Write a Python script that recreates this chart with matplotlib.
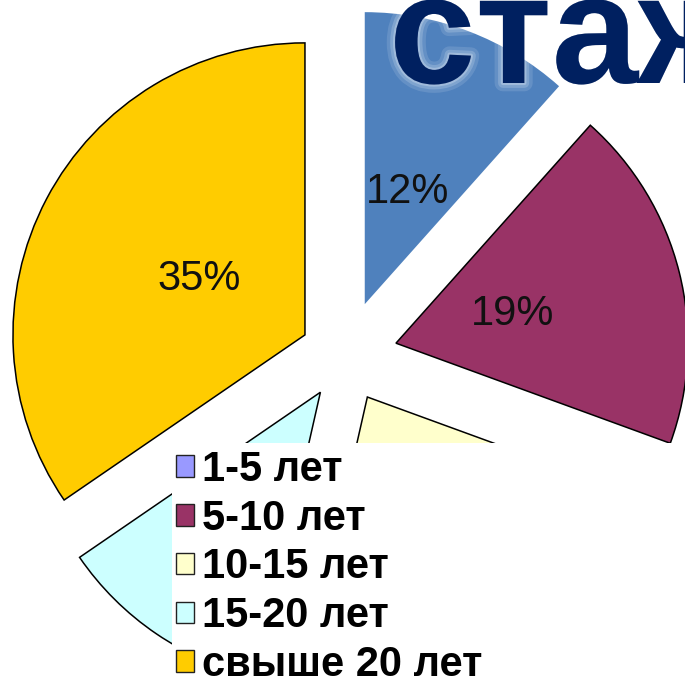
import matplotlib
matplotlib.use("Agg")
import matplotlib.pyplot as plt
import matplotlib.patheffects as pe
from matplotlib.patches import Patch, Rectangle

plt.rcParams['font.family'] = ['Liberation Sans', 'DejaVu Sans']

# data (shares in %)
labels = ['1-5 лет', '5-10 лет', '10-15 лет', '15-20 лет', 'свыше 20 лет']
shares = [11.6, 19.0, 23.0, 11.9, 34.6]
slice_colors = ['#4F81BD', '#993366', '#FFFFCC', '#CCFFFF', '#FFCC00']
legend_colors = ['#9999FF', '#993366', '#FFFFCC', '#CCFFFF', '#FFCC00']
explode = [0.19, 0.18, 0.16, 0.15, 0.155]  # fraction of radius

W, H = 685, 683
R = 292

fig = plt.figure(figsize=(W / 100, H / 100), dpi=100)
ax = fig.add_axes([0, 0, 1, 1])

wedges, texts, autotexts = ax.pie(
    shares, explode=[e * R for e in explode], colors=slice_colors,
    startangle=90, counterclock=False,
    center=(345, H - 356), radius=R,
    autopct='%.0f%%', pctdistance=0.41,
    wedgeprops=dict(edgecolor='black', linewidth=1.1),
    textprops=dict(fontsize=30, color='#111111'))
wedges[0].set_edgecolor('none')  # first slice has no outline
# these two labels sit under the legend in the original
autotexts[2].set_visible(False)
autotexts[3].set_visible(False)

ax.set_xlim(0, W)
ax.set_ylim(0, H)
ax.set_aspect('equal')
ax.axis('off')

# white legend area covering the lower part of the pie
ax.add_patch(Rectangle((172 / W, 0), 1 - 172 / W, (H - 443) / H,
                       transform=ax.transAxes, facecolor='white',
                       edgecolor='none', zorder=4, clip_on=False))

handles = [Patch(facecolor=c, edgecolor='#222222', linewidth=1.0) for c in legend_colors]
ax.legend(handles, labels, loc='upper left',
          bbox_to_anchor=(176 / W, (H - 450) / H),
          frameon=False, prop=dict(weight='bold', size=30),
          handlelength=0.42, handleheight=0.42, handletextpad=0.2,
          labelspacing=0.21, borderpad=0, borderaxespad=0)

# title, cut by the right edge as in the original; soft white glow
glow = [pe.Stroke(linewidth=12, foreground='white', alpha=0.12),
        pe.Stroke(linewidth=7, foreground='white', alpha=0.18),
        pe.Stroke(linewidth=3, foreground='white', alpha=0.25),
        pe.Normal()]
ax.text(389, H - 83, 'стаж', fontsize=112, fontweight='bold', color='#002060',
        ha='left', va='baseline', zorder=6, path_effects=glow)

fig.savefig('out.png', dpi=100)
